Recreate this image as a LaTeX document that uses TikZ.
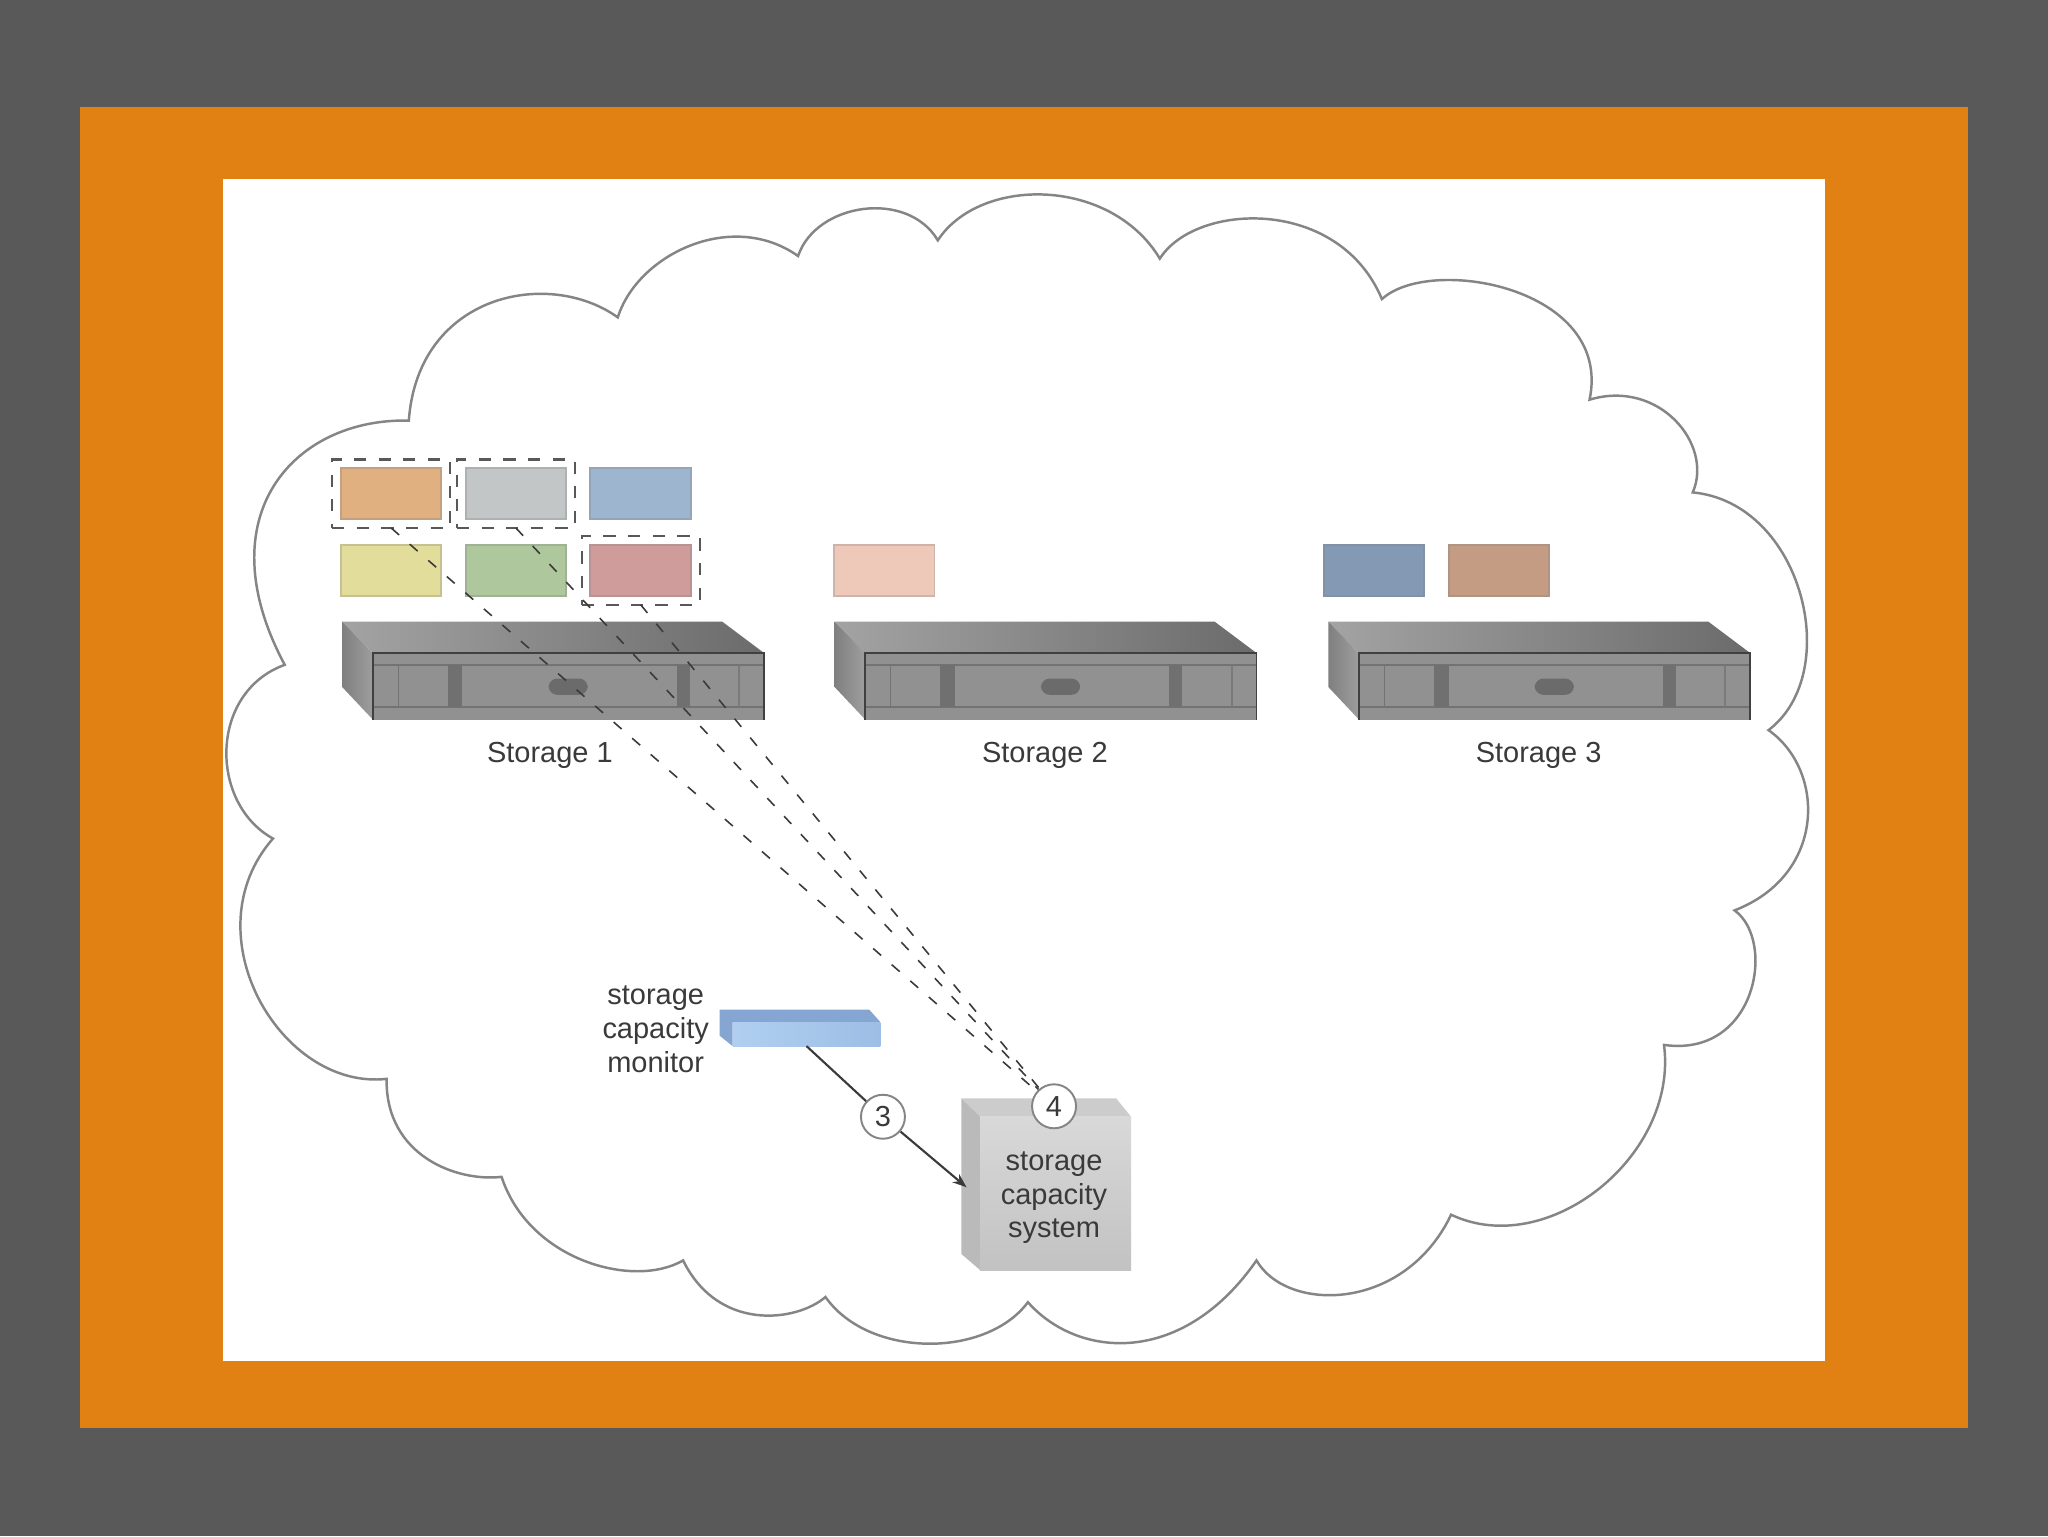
\documentclass[tikz,border=0pt]{standalone}
\usepackage{fontspec}
\setmainfont{Liberation Sans}
\usepackage{tikz}
\usetikzlibrary{positioning,fit,arrows.meta}

\definecolor{slide}{HTML}{595959}
\definecolor{band}{HTML}{E28113}
\definecolor{lineGray}{HTML}{858585}
\definecolor{inkGray}{HTML}{3A3A3A}
\definecolor{volOrange}{HTML}{E0B080}
\definecolor{volGray}{HTML}{C3C6C6}
\definecolor{volBlue}{HTML}{9DB5CF}
\definecolor{volYellow}{HTML}{E3DD9B}
\definecolor{volGreen}{HTML}{AFC79D}
\definecolor{volRed}{HTML}{CF9B9B}
\definecolor{volPink}{HTML}{EEC9BA}
\definecolor{volSteel}{HTML}{8499B3}
\definecolor{volTan}{HTML}{C49C84}
\definecolor{monSide}{HTML}{85A5D3}
\definecolor{monLight}{HTML}{B0CFF0}
\definecolor{monDark}{HTML}{9DBEE5}

\tikzset{
  vol/.style={rectangle, fill=#1, draw=#1!70!gray, line width=1.1pt, outer sep=0pt,
    minimum width=2.01cm, minimum height=1.02cm},
  frame/.style={rectangle, draw=inkGray!85, line width=1.3pt, dash pattern=on 7pt off 7pt,
    inner sep=5pt, outer sep=0pt},
  lbl/.style={text=inkGray, align=center, inner sep=0pt,
    font=\fontsize{16.5}{19.2}\selectfont},
  badge/.style={circle, draw=lineGray, fill=white, line width=1.1pt, minimum size=0.88cm,
    inner sep=0pt, text=inkGray, font=\fontsize{16.5}{19.2}\selectfont},
  link/.style={draw=inkGray, line width=0.9pt, dash pattern=on 6pt off 8pt},
  flow/.style={draw=inkGray, line width=1.2pt},
  storagebox/.pic={
    \shade[left color=black!36, right color=black!58] (0,0) -- (291,0) -- (323,24) -- (23.5,24) -- cycle;
    \shade[left color=black!50, right color=black!38] (0,0) -- (23.5,24) -- (23.5,75) -- (0,50) -- cycle;
    \fill[black!43] (23.5,24) rectangle (323,75);
    \draw[black!55, line width=1pt] (23.5,33) -- (323,33);
    \draw[black!55, line width=1pt] (23.5,65.5) -- (323,65.5);
    \fill[black!56] (81,33) rectangle (92,65.5);
    \fill[black!56] (256,33) rectangle (266,65.5);
    \draw[black!55, line width=0.8pt] (43,33) -- (43,65.5);
    \draw[black!52, line width=1.2pt] (304,33) -- (304,65.5);
    \fill[black!58, rounded corners=5pt] (158,43.5) rectangle (188,56);
    \draw[black!75, line width=1pt] (323,75) -- (323,24) -- (23.5,24) -- (23.5,75);
  }
}

\begin{document}
\begin{tikzpicture}[x=0.0261224cm, y=-0.0261224cm]
\useasboundingbox (0,0) rectangle (1568,1176);

% slide background
\fill[slide] (0,0) rectangle (1568,1176);
\fill[band] (61,82) rectangle (1507,1093);
\fill[white] (171,137) rectangle (1397,1042);

% cloud outline
\draw[lineGray, line width=1.4pt, line join=miter]
  (473,243) .. controls (488,195) and (560,160) .. (611,196)
  .. controls (625,155) and (695,145) .. (718,184)
  .. controls (750,135) and (850,135) .. (888,198)
  .. controls (915,155) and (1025,150) .. (1058,229)
  .. controls (1095,195) and (1235,220) .. (1217,306)
  .. controls (1270,290) and (1312,340) .. (1296,377)
  .. controls (1380,385) and (1412,515) .. (1354,559)
  .. controls (1398,590) and (1398,670) .. (1328,697)
  .. controls (1360,720) and (1345,810) .. (1274,800)
  .. controls (1285,885) and (1185,965) .. (1111,930)
  .. controls (1075,1005) and (985,1005) .. (962,965)
  .. controls (905,1047) and (825,1040) .. (787,997)
  .. controls (755,1040) and (665,1040) .. (632,993)
  .. controls (610,1012) and (550,1020) .. (523,965)
  .. controls (485,987) and (405,965) .. (384,901)
  .. controls (350,905) and (295,885) .. (296,826)
  .. controls (215,835) and (145,715) .. (209,642)
  .. controls (160,615) and (160,530) .. (218,509)
  .. controls (157,395) and (225,320) .. (313,322)
  .. controls (320,225) and (420,205) .. (473,243) -- cycle;

% storage units
\pic at (262,476) {storagebox};
\pic at (639,476) {storagebox};
\pic at (1017,476) {storagebox};
\node[lbl] (storage1) at (421,578) {Storage 1};
\node[lbl] (storage2) at (800,578) {Storage 2};
\node[lbl] (storage3) at (1178,578) {Storage 3};

% volumes on storage 1
\node[vol=volOrange] (volA) at (299.5,378) {};
\node[vol=volGray, right=0.485cm of volA] (volB) {};
\node[vol=volBlue, right=0.485cm of volB] (volC) {};
\node[vol=volYellow, below=0.515cm of volA] (volD) {};
\node[vol=volGreen, below=0.515cm of volB] (volE) {};
\node[vol=volRed, below=0.515cm of volC] (volF) {};

% volumes on storage 2 and 3
\node[vol=volPink] (volG) at (677,437) {};
\node[vol=volSteel] (volH) at (1052,437) {};
\node[vol=volTan, right=0.485cm of volH] (volI) {};

% dashed frames
\node[frame, fit=(volA)] (frameA) {};
\node[frame, fit=(volB)] (frameB) {};
\node[frame, fit=(volF)] (frameF) {};

% monitor
\fill[monSide] (551,773) -- (665.5,773) -- (674,782.5) -- (561,782.5) -- (561,801) -- (551,793) -- cycle;
\node[rectangle, left color=monLight, right color=monDark,
  minimum width=2.95cm, minimum height=0.48cm, outer sep=0pt] (monitor) at (617.5,791.75) {};
\node[lbl] (monitorText) at (502,788) {storage\\capacity\\monitor};

% capacity system
\fill[black!20] (736,841) -- (854.6,841) -- (866,855) -- (750.5,855) -- cycle;
\fill[black!27] (736,841) -- (750.5,855) -- (750.5,972.5) -- (736,960) -- cycle;
\node[rectangle, top color=black!15, bottom color=black!24, minimum width=3.02cm,
  minimum height=3.07cm, outer sep=0pt] (system) at (808.25,913.75) {};
\node[lbl] (systemText) at (807,917) {storage\\capacity\\system};
\coordinate (systemIn) at (740,909);

% numbered steps
\node[badge] (three) at (676,855) {3};
\node[badge] (four) at (807,847) {4};

% connectors
\draw[flow] (monitor.south) -- (three);
\draw[flow, -{Stealth[length=8pt,width=6pt]}] (three) -- (systemIn);
\draw[link] (frameA.south) -- (four);
\draw[link] (frameB.south) -- (four);
\draw[link] (frameF.south) -- (four);

\end{tikzpicture}
\end{document}
